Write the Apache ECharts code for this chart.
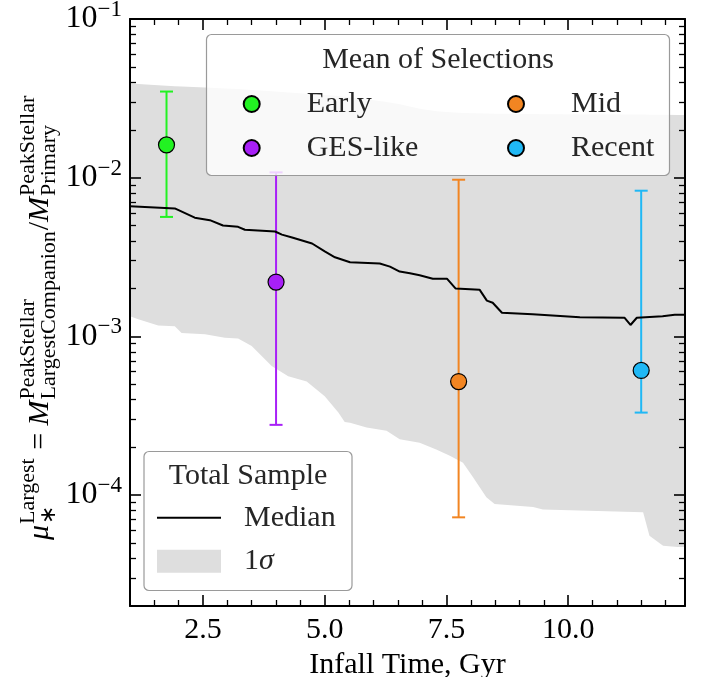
<!DOCTYPE html>
<html>
<head>
<meta charset="utf-8">
<script src="https://cdn.jsdelivr.net/npm/echarts@6/dist/echarts.min.js"></script>
<style>
html, body { margin: 0; padding: 0; background: #fff; }
#chart { width: 702px; height: 677px; }
</style>
</head>
<body>
<div id="chart"></div>
<script>
// axis ranges and tick labels
const X_MIN = 1.0, X_MAX = 12.4;
const Y_MIN = 2e-5, Y_MAX = 0.1;
const xTickValues = [2.5, 5, 7.5, 10];
const yTickValues = [1e-4, 1e-3, 1e-2, 1e-1];

// total sample: 1 sigma band
const bandX = [1.0, 1.17, 1.58, 1.92, 2.06, 2.54, 2.95, 3.22, 3.5, 3.91, 4.25, 4.63, 5.0, 5.28, 5.41, 5.52, 5.86,
  6.27, 6.54, 6.95, 7.29, 7.57, 7.84, 8.05, 8.32, 8.49, 9.28, 9.48, 11.54, 11.67, 11.95, 12.25, 12.4];
const bandUpper = [0.0393, 0.0389, 0.0382, 0.0377, 0.0375, 0.0370, 0.0365, 0.0362, 0.0357, 0.0350, 0.0344, 0.0338,
  0.0332, 0.0327, 0.0324, 0.0321, 0.0312, 0.0300, 0.0290, 0.0272, 0.0262, 0.0258, 0.0256, 0.0255, 0.0254, 0.0253,
  0.0252, 0.0251, 0.0250, 0.0249, 0.0249, 0.0248, 0.0248];
const bandLower = [1.34e-3, 1.28e-3, 1.17e-3, 1.16e-3, 1.05e-3, 1.03e-3, 9.8e-4, 9.7e-4, 8.7e-4, 6.5e-4, 5.6e-4,
  5.2e-4, 4.2e-4, 3.31e-4, 2.89e-4, 2.86e-4, 2.67e-4, 2.54e-4, 2.25e-4, 2.14e-4, 1.94e-4, 1.77e-4, 1.6e-4, 1.29e-4,
  9.7e-5, 8.8e-5, 8.4e-5, 8.1e-5, 7.8e-5, 5.55e-5, 4.8e-5, 4.7e-5, 4.7e-5];

// total sample: median
const medianX = [1.0, 1.92, 2.33, 2.64, 2.91, 3.22, 3.36, 3.98, 4.12, 4.33, 4.74, 5.0, 5.21, 5.52, 6.13, 6.34, 6.54,
  6.75, 6.95, 7.22, 7.51, 7.69, 8.18, 8.33, 8.45, 8.64, 9.27, 10.24, 11.16, 11.28, 11.41, 11.94, 12.19, 12.4];
const medianY = [0.0066, 0.0064, 0.0056, 0.0054, 0.0050, 0.0049, 0.0047, 0.00458, 0.00438, 0.0042, 0.00385, 0.00343,
  0.00315, 0.00293, 0.00288, 0.00275, 0.00256, 0.0025, 0.00243, 0.00231, 0.00231, 0.0020, 0.00197, 0.00168, 0.00163,
  0.00141, 0.00138, 0.00132, 0.00131, 0.00118, 0.00131, 0.00134, 0.00137, 0.00137];

// mean of selections
const selNames = ['Early', 'GES-like', 'Mid', 'Recent'];
const selColors = ['#22f222', '#a820f7', '#f28522', '#20b8f5'];
const selX = [1.75, 4.0, 7.75, 11.5];
const selMean = [0.0161, 0.0022, 5.19e-4, 6.1e-4];
const selLow = [0.00566, 2.77e-4, 7.24e-5, 3.31e-4];
const selHigh = [0.0349, 0.0108, 0.00971, 0.00828];

const FONT = 'Liberation Serif';
const TXT = '#262626';

// minor tick positions
const xMinor = [];
for (let v = 1.5; v < X_MAX; v += 0.5) {
  if (xTickValues.indexOf(v) < 0) xMinor.push(v);
}
const yMinor = [];
for (let e = -5; e <= -2; e++) {
  for (let k = 2; k <= 9; k++) {
    const v = k * Math.pow(10, e);
    if (v > Y_MIN * 1.0001 && v < Y_MAX) yMinor.push(Math.log10(v));
  }
}

const chart = echarts.init(document.getElementById('chart'), null, { renderer: 'canvas' });

// y axis name, math-like label built of small texts in a rotated group
const measure = document.createElement('canvas').getContext('2d');
function textWidth(t, size, italic) {
  measure.font = (italic ? 'italic ' : '') + size + 'px "' + FONT + '"';
  return measure.measureText(t).width;
}
const yNameParts = [
  { main: 'μ', italic: true },
  { sup: 'Largest', sub: '∗' },
  { main: ' = ' },
  { main: 'M', italic: true },
  { sup: 'PeakStellar', sub: 'LargestCompanion' },
  { main: '/' },
  { main: 'M', italic: true },
  { sup: 'PeakStellar', sub: 'Primary' }
];
const yNameChildren = [];
let cursor = 0;
yNameParts.forEach(p => {
  if (p.main) {
    yNameChildren.push({
      type: 'text', x: cursor, y: -12,
      style: { text: p.main, font: (p.italic ? 'italic ' : '') + '30px "' + FONT + '"', fill: '#000', verticalAlign: 'middle' }
    });
    cursor += textWidth(p.main, 30, p.italic);
  } else {
    yNameChildren.push({
      type: 'text', x: cursor + 1, y: -24,
      style: { text: p.sup, font: '22px "' + FONT + '"', fill: '#000', verticalAlign: 'middle' }
    });
    yNameChildren.push({
      type: 'text', x: cursor + 1, y: -3,
      style: { text: p.sub, font: '22px "' + FONT + '"', fill: '#000', verticalAlign: 'middle' }
    });
    cursor += Math.max(textWidth(p.sup, 22), textWidth(p.sub, 22)) + 2;
  }
});

const axisLineStyle = { color: '#000', width: 2 };
const majorTick = { show: true, inside: true, length: 11, lineStyle: { color: '#000', width: 1.6 } };
const minorTick = { show: true, inside: true, length: 6, lineStyle: { color: '#000', width: 1.3 } };

function logLabel(v) {
  const hit = yTickValues.find(t => Math.abs(Math.log10(t) - Math.log10(v)) < 1e-6);
  if (hit === undefined) return '';
  return '{b|10}{s|−' + Math.round(-Math.log10(hit)) + '}';
}

const series = [];

series.push({
  name: '1σ',
  type: 'custom',
  z: 1,
  silent: true,
  itemStyle: { color: '#dedede' },
  data: bandX.map((x, i) => [x, bandLower[i], bandUpper[i]]),
  encode: { x: 0, y: [1, 2] },
  renderItem: function (params, api) {
    if (params.dataIndex !== 0) return null;
    const pts = [];
    for (let i = 0; i < bandX.length; i++) pts.push(api.coord([bandX[i], bandUpper[i]]));
    for (let i = bandX.length - 1; i >= 0; i--) pts.push(api.coord([bandX[i], bandLower[i]]));
    return { type: 'polygon', shape: { points: pts }, style: { fill: '#dedede' } };
  }
});

series.push({
  name: 'Median',
  type: 'line',
  z: 3,
  silent: true,
  symbol: 'none',
  showSymbol: false,
  lineStyle: { color: '#000', width: 2 },
  itemStyle: { color: '#000' },
  data: medianX.map((x, i) => [x, medianY[i]])
});

selNames.forEach((name, i) => {
  series.push({
    name: name + ' range',
    type: 'custom',
    z: 3,
    silent: true,
    data: [[selX[i], selLow[i], selHigh[i]]],
    encode: { x: 0, y: [1, 2] },
    renderItem: function (params, api) {
      const lo = api.coord([api.value(0), api.value(1)]);
      const hi = api.coord([api.value(0), api.value(2)]);
      const c = 6.5;
      const st = { stroke: selColors[i], lineWidth: 2 };
      return {
        type: 'group',
        children: [
          { type: 'line', shape: { x1: lo[0], y1: lo[1], x2: hi[0], y2: hi[1] }, style: st },
          { type: 'line', shape: { x1: lo[0] - c, y1: lo[1], x2: lo[0] + c, y2: lo[1] }, style: st },
          { type: 'line', shape: { x1: hi[0] - c, y1: hi[1], x2: hi[0] + c, y2: hi[1] }, style: st }
        ]
      };
    }
  });
});

selNames.forEach((name, i) => {
  series.push({
    name: name,
    type: 'scatter',
    z: 4,
    silent: true,
    symbol: 'circle',
    symbolSize: 16,
    itemStyle: { color: selColors[i], borderColor: '#000', borderWidth: 1.2, opacity: 1 },
    data: [[selX[i], selMean[i]]]
  });
});

const legendText = { fontFamily: FONT, fontSize: 30, color: TXT, lineHeight: 30 };

chart.setOption({
  animation: false,
  backgroundColor: '#fff',
  grid: { left: 130, right: 17, top: 19, bottom: 71, containLabel: false, outerBoundsMode: 'none' },
  xAxis: [
    {
      type: 'value', position: 'bottom', min: X_MIN, max: X_MAX, z: 2,
      axisLine: { show: true, onZero: false, lineStyle: axisLineStyle },
      axisTick: Object.assign({ customValues: xTickValues }, majorTick),
      axisLabel: {
        customValues: xTickValues, margin: 9, color: '#000', fontFamily: FONT, fontSize: 30,
        formatter: v => v.toFixed(1)
      },
      splitLine: { show: false },
      name: 'Infall Time, Gyr', nameLocation: 'middle', nameGap: 33,
      nameTextStyle: { fontFamily: FONT, fontSize: 30, color: '#000' }
    },
    {
      type: 'value', position: 'bottom', min: X_MIN, max: X_MAX, z: 2,
      axisLine: { show: false, onZero: false },
      axisTick: Object.assign({ customValues: xMinor }, minorTick),
      axisLabel: { show: false }, splitLine: { show: false }
    },
    {
      type: 'value', position: 'top', min: X_MIN, max: X_MAX, z: 2,
      axisLine: { show: true, onZero: false, lineStyle: axisLineStyle },
      axisTick: Object.assign({ customValues: xTickValues }, majorTick),
      axisLabel: { show: false }, splitLine: { show: false }
    },
    {
      type: 'value', position: 'top', min: X_MIN, max: X_MAX, z: 2,
      axisLine: { show: false, onZero: false },
      axisTick: Object.assign({ customValues: xMinor }, minorTick),
      axisLabel: { show: false }, splitLine: { show: false }
    }
  ],
  yAxis: [
    {
      type: 'log', logBase: 10, position: 'left', min: Y_MIN, max: Y_MAX, z: 2,
      axisLine: { show: true, onZero: false, lineStyle: axisLineStyle },
      axisTick: majorTick,
      axisLabel: {
        margin: 8, color: '#000', formatter: logLabel,
        rich: {
          b: { fontFamily: FONT, fontSize: 32, color: '#000' },
          s: { fontFamily: FONT, fontSize: 23, color: '#000', padding: [0, 0, 18, 0] }
        }
      },
      splitLine: { show: false }, minorTick: { show: false }
    },
    {
      type: 'value', position: 'left', min: Math.log10(Y_MIN), max: Math.log10(Y_MAX), z: 2,
      axisLine: { show: false, onZero: false },
      axisTick: Object.assign({ customValues: yMinor }, minorTick),
      axisLabel: { show: false }, splitLine: { show: false }
    },
    {
      type: 'log', logBase: 10, position: 'right', min: Y_MIN, max: Y_MAX, z: 2,
      axisLine: { show: true, onZero: false, lineStyle: axisLineStyle },
      axisTick: majorTick,
      axisLabel: { show: false }, splitLine: { show: false }
    },
    {
      type: 'value', position: 'right', min: Math.log10(Y_MIN), max: Math.log10(Y_MAX), z: 2,
      axisLine: { show: false, onZero: false },
      axisTick: Object.assign({ customValues: yMinor }, minorTick),
      axisLabel: { show: false }, splitLine: { show: false }
    }
  ],
  legend: [
    {
      orient: 'vertical', left: 242.7, top: 89, padding: 0, itemWidth: 16, itemHeight: 16, itemGap: 14,
      z: 6, selectedMode: false, data: ['Early', 'GES-like'],
      textStyle: Object.assign({ padding: [0, 0, 0, 42] }, legendText)
    },
    {
      orient: 'vertical', left: 507, top: 89, padding: 0, itemWidth: 16, itemHeight: 16, itemGap: 14,
      z: 6, selectedMode: false, data: ['Mid', 'Recent'],
      textStyle: Object.assign({ padding: [0, 0, 0, 42] }, legendText)
    },
    {
      orient: 'vertical', left: 157, top: 502.7, padding: 0, itemWidth: 64, itemHeight: 23, itemGap: 13.6,
      z: 6, selectedMode: false,
      data: [{ name: 'Median', icon: 'path://M0,0H64V2H0Z' }, { name: '1σ', icon: 'rect' }],
      formatter: name => name === '1σ' ? '1{i|σ}' : name,
      textStyle: Object.assign({
        padding: [0, 0, 0, 18],
        rich: { i: { fontFamily: FONT, fontSize: 30, fontStyle: 'italic', color: TXT, lineHeight: 30 } }
      }, legendText)
    }
  ],
  graphic: [
    {
      type: 'rect', z: 5, silent: true,
      shape: { x: 206.5, y: 34.5, width: 463, height: 141, r: 5 },
      style: { fill: 'rgba(255,255,255,0.8)', stroke: '#9a9a9a', lineWidth: 1.2 }
    },
    {
      type: 'rect', z: 5, silent: true,
      shape: { x: 144, y: 451.5, width: 208, height: 139, r: 5 },
      style: { fill: 'rgba(255,255,255,0.8)', stroke: '#9a9a9a', lineWidth: 1.2 }
    },
    {
      type: 'text', z: 6, silent: true, x: 438, y: 60,
      style: { text: 'Mean of Selections', font: '30px "' + FONT + '"', fill: TXT, align: 'center', verticalAlign: 'middle' }
    },
    {
      type: 'text', z: 6, silent: true, x: 248, y: 476,
      style: { text: 'Total Sample', font: '30px "' + FONT + '"', fill: TXT, align: 'center', verticalAlign: 'middle' }
    },
    {
      type: 'group', x: 52, y: 540, rotation: Math.PI / 2, silent: true,
      children: yNameChildren
    }
  ],
  series: series
});
</script>
</body>
</html>
